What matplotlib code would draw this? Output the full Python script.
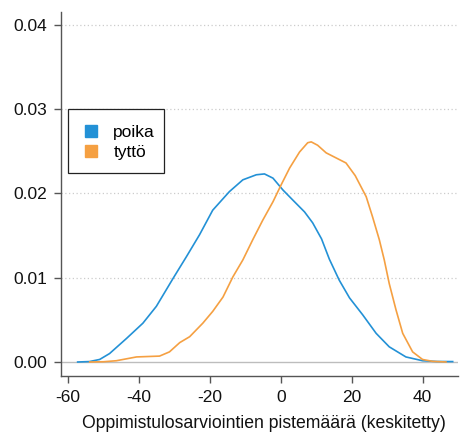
import numpy as np
import matplotlib.pyplot as plt
from matplotlib.lines import Line2D
from matplotlib.patches import Rectangle

plt.rcParams['font.family'] = ['Liberation Sans', 'DejaVu Sans']

poika_x = [-57.3, -54.0, -51.1, -48.3, -43.5, -38.9, -35.1, -30.4, -26.6, -22.9,
           -19.2, -14.5, -10.7, -6.9, -4.6, -2.2, 0.6, 3.4, 6.7, 9.0, 11.5,
           13.7, 16.5, 19.4, 23.1, 26.9, 30.6, 35.3, 40.0, 44.0, 48.5]
poika_y = [0.0, 0.00005, 0.0003, 0.0010, 0.0028, 0.0046, 0.0066, 0.0099, 0.0125, 0.0151,
           0.0180, 0.0202, 0.0216, 0.0222, 0.0223, 0.0218, 0.0204, 0.0192, 0.0178, 0.0165, 0.0146,
           0.0122, 0.0097, 0.0076, 0.0056, 0.0034, 0.0018, 0.0006, 0.00015, 0.00006, 0.00005]

tytto_x = [-53.9, -50.0, -46.4, -40.7, -34.2, -31.4, -28.5, -25.7, -22.0, -19.2,
           -16.3, -13.5, -10.7, -7.9, -5.1, -2.2, 0.1, 2.5, 5.3, 7.6, 8.6,
           10.4, 12.8, 15.6, 18.4, 21.0, 24.1, 25.9, 27.8, 29.2, 30.6, 32.5,
           34.4, 37.2, 40.0, 42.8, 46.6]
tytto_y = [0.0, 0.00003, 0.00015, 0.0006, 0.0007, 0.0012, 0.0023, 0.0030, 0.0046, 0.0060,
           0.0077, 0.0101, 0.0121, 0.0145, 0.0168, 0.0190, 0.0210, 0.0230, 0.0249, 0.0260, 0.0261,
           0.0257, 0.0248, 0.0242, 0.0236, 0.0221, 0.0196, 0.0172, 0.0145, 0.0121, 0.0093, 0.0062,
           0.0034, 0.0012, 0.0003, 0.00008, 0.0]

groups = ["poika", "tyttö"]
colors = ["#2391d6", "#f5a042"]

x_ticks = [-60, -40, -20, 0, 20, 40]
y_ticks = [0.00, 0.01, 0.02, 0.03, 0.04]

W, H = 462, 434
fig = plt.figure(figsize=(W / 100, H / 100), dpi=100)
ax = fig.add_axes([61 / W, 1 - 376 / H, 397 / W, 364 / H])

# gridlines: dotted above zero, solid line at zero
for yv in y_ticks[1:]:
    ax.axhline(yv, color="#cccccc", lw=0.9, ls=(0, (1, 2)), zorder=0)
ax.axhline(0, color="#bdbdbd", lw=1.0, zorder=0)

ax.plot(poika_x, poika_y, color=colors[0], lw=1.2)
ax.plot(tytto_x, tytto_y, color=colors[1], lw=1.2)

ax.set_xlim(-62, 50)
ax.set_ylim(-0.00166, 0.0415)
ax.set_xticks(x_ticks)
ax.set_xticklabels([str(v) for v in x_ticks])
ax.set_yticks(y_ticks)
ax.set_yticklabels(["%.2f" % v for v in y_ticks])

for side in ["top", "right"]:
    ax.spines[side].set_visible(False)
for side in ["left", "bottom"]:
    ax.spines[side].set_color("#555555")
    ax.spines[side].set_linewidth(1.0)

ax.tick_params(axis="both", direction="out", length=5, width=1.0,
               color="#555555", labelsize=12.5, labelcolor="#111111", pad=5)
ax.set_xlabel("Oppimistulosarviointien pistemäärä (keskitetty)", fontsize=12.7,
              color="#111111")
ax.xaxis.set_label_coords(0.51, -0.108)

# legend box drawn separately so its padding can differ per side
ax.add_patch(Rectangle((68 / W, 1 - 173 / H), 96 / W, 63.5 / H, transform=fig.transFigure,
                       facecolor="white", edgecolor="#222222", lw=0.9, zorder=4,
                       clip_on=False))
handles = [Line2D([], [], ls="", marker="s", ms=8.8, color=c, mec=c) for c in colors]
leg = ax.legend(handles, groups, loc="center left",
                bbox_to_anchor=(82 / W, 1 - 142.5 / H), bbox_transform=fig.transFigure,
                borderaxespad=0, borderpad=0, fontsize=12.5, frameon=False,
                handlelength=1.0, handletextpad=0.8, labelspacing=0.25)
leg.set_zorder(5)

plt.savefig("out.png", dpi=100)
